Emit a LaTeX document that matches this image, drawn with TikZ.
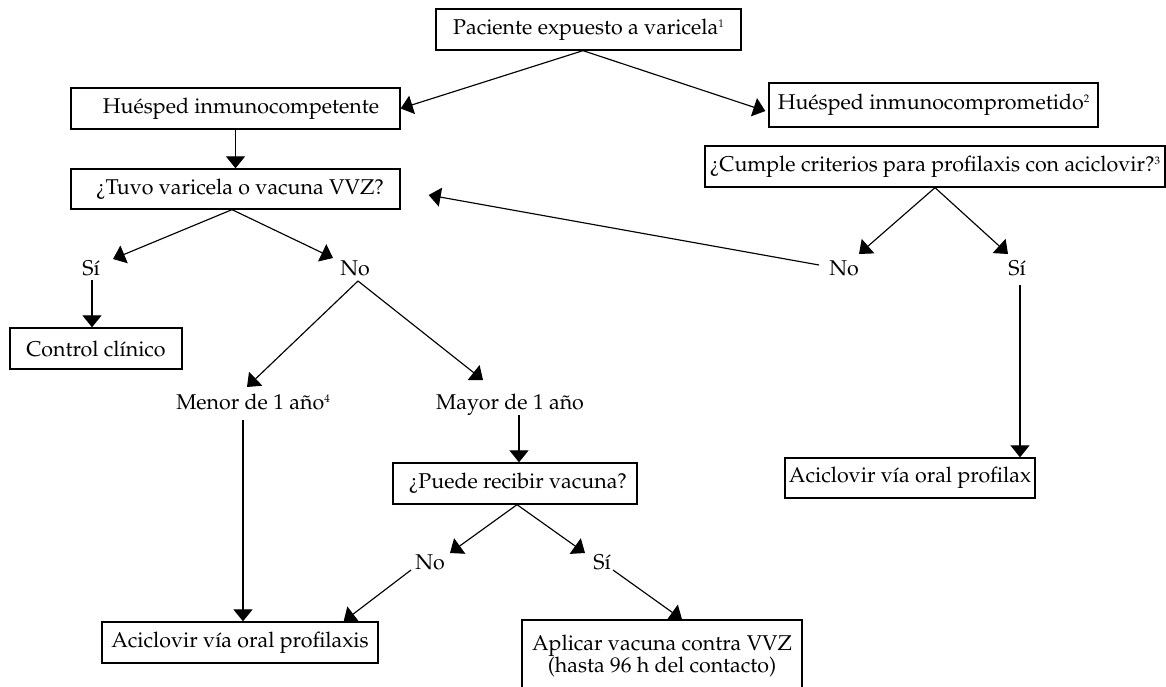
\documentclass[tikz,border=0pt]{standalone}
\usepackage[T1]{fontenc}
\renewcommand\rmdefault{ppl}
\usetikzlibrary{arrows.meta}
\newcommand\diagfont{\fontsize{21.4}{22}\selectfont}
\newcommand\supnum[1]{\raisebox{7pt}{\fontsize{11}{11}\selectfont #1}}
\begin{document}
\begin{tikzpicture}[x=1pt,y=-1pt,
  box/.style={draw, line width=1.3pt, inner sep=0pt, minimum height=41pt, font=\diagfont},
  lbl/.style={inner sep=0pt, anchor=base, font=\diagfont},
  arr/.style={line width=1.15pt, -{Triangle[length=12pt,width=19pt]}}]
\useasboundingbox (0,0) rectangle (1166,686);
\clip (0,0) rectangle (1166,686);
% boxes
\node[box, minimum width=305pt] (top) at (588.5,29.5) {Paciente expuesto a varicela\supnum{1}};
\node[box, minimum width=329pt] (hic) at (235.5,108.5) {\hspace{11pt}Huésped inmunocompetente};
\node[box, minimum width=329pt, minimum height=44pt] (hid) at (933.5,105) {Huésped inmunocomprometido\supnum{2}};
\node[box, minimum width=329pt, minimum height=40pt] (tuvo) at (235.5,189) {\hspace{9pt}\textquestiondown Tuvo varicela o vacuna VVZ?};
\node[box, minimum width=460pt] (cumple) at (935,166.5) {\textquestiondown Cumple criterios para profilaxis con aciclovir?\supnum{3}};
\node[box, minimum width=172pt] (control) at (96,348.5) {Control clínico};
\node[box, minimum width=244pt] (puede) at (515,483.5) {\hspace{6pt}\textquestiondown Puede recibir vacuna?};
\node[box, minimum width=276pt] (acic1) at (240,642.5) {Aciclovir vía oral profilaxis};
\node[box, minimum width=280pt, minimum height=72pt, align=center] (aplicar) at (662,656) {Aplicar vacuna contra VVZ\\(hasta 96 h del contacto)};
\node[box, minimum width=250pt, minimum height=40pt] (acic2) at (910,478) {Aciclovir vía oral profilax};
% labels
\node[lbl] (si1) at (91,275) {Sí};
\node[lbl] (no1) at (355,275) {No};
\node[lbl] (menor) at (253,409) {Menor de 1 año\supnum{4}};
\node[lbl] (mayor) at (510,409) {Mayor de 1 año};
\node[lbl] (no2) at (430,569) {No};
\node[lbl] (si2) at (602,569) {Sí};
\node[lbl] (no3) at (844,275) {No};
\node[lbl] (si3) at (1017,275) {Sí};
% helper coordinates
\coordinate (topo) at ([xshift=-5.5pt]top.south);
\coordinate (tuvoo) at ([xshift=-3.5pt]tuvo.south);
\coordinate (si1s) at ([shift={(1,5)}]si1.base);
\coordinate (no1s) at ([shift={(3,6)}]no1.base);
\coordinate (menors) at ([shift={(-10,11)}]menor.base);
\coordinate (mayors) at ([shift={(9,6)}]mayor.base);
\coordinate (puedeo) at ([xshift=2pt]puede.south);
\coordinate (no2s) at ([shift={(-19,1)}]no2.base);
\coordinate (si2s) at ([shift={(11,1)}]si2.base);
\coordinate (no3s) at ([shift={(-25,-10)}]no3.base);
\coordinate (si3s) at ([shift={(3,10)}]si3.base);
% connectors
\draw[arr] (topo) -- (hic.east);
\draw[arr] (topo) -- ([shift={(-3,6)}]hid.west);
\draw[arr] (hic.south) -- (tuvo.north);
\draw[arr] (tuvoo) -- ([shift={(22,-16)}]si1.base);
\draw[arr] (tuvoo) -- ([shift={(-22,-17)}]no1.base);
\draw[arr] (si1s) -- (si1s |- control.north);
\draw[arr] (no1s) -- ([shift={(-6,-22)}]menor.base);
\draw[arr] (no1s) -- ([shift={(-27,-29)}]mayor.base);
\draw[arr] (menors) -- (menors |- acic1.north);
\draw[arr] (mayors) -- (mayors |- puede.north);
\draw[arr] (puedeo) -- ([shift={(20,-16)}]no2.base);
\draw[arr] (puedeo) -- ([shift={(-17,-16)}]si2.base);
\draw[arr] (no2s) -- ([xshift=-35pt]acic1.north east);
\draw[arr] (si2s) -- ([xshift=20pt]aplicar.north);
\draw[arr] (cumple.south) -- ([shift={(15,-21)}]no3.base);
\draw[arr] (cumple.south) -- ([shift={(-9,-21)}]si3.base);
\draw[arr] (no3s) -- ([shift={(28,6)}]tuvo.east);
\draw[arr] (si3s) -- (si3s |- acic2.north);
\end{tikzpicture}
\end{document}
